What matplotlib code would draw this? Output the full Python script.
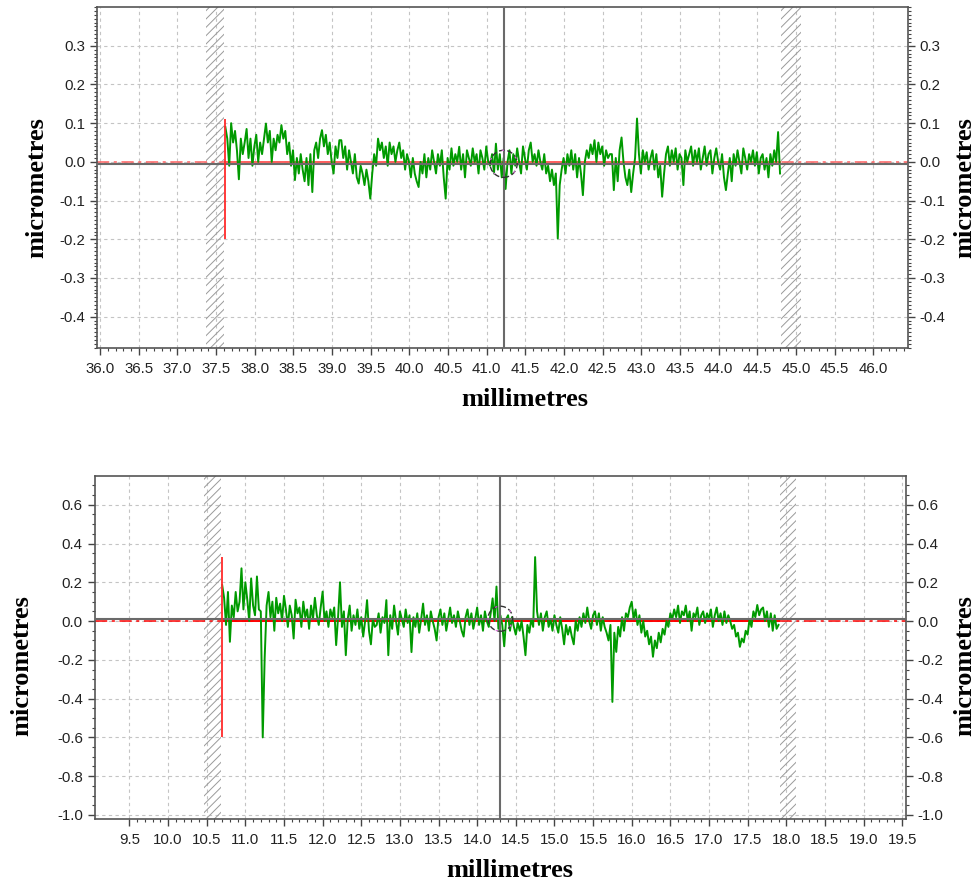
import numpy as np
import matplotlib.pyplot as plt
from matplotlib.patches import Ellipse
from matplotlib.ticker import FixedLocator, FormatStrFormatter

plt.rcParams['font.family'] = 'Liberation Sans'
plt.rcParams['axes.unicode_minus'] = False
plt.rcParams['hatch.linewidth'] = 0.7
plt.rcParams['hatch.color'] = '#909090'

# profile 1 : sampled every 0.025 mm starting at 37.62 mm (micrometres)
top_start = 37.62
top_step = 0.025
top_profile = [
    0.09, 0.06, -0.01, 0.10, 0.05, 0.08, 0.03, -0.045, 0.06, 0.02, 0.05, 0.085, 0.01, 0.06, -0.01, 0.04, 0.07, 0.00, 0.05, 0.02,
    0.06, 0.099, 0.05, 0.08, 0.00, 0.06, 0.03, 0.07, 0.05, 0.095, 0.06, 0.08, 0.02, 0.05, -0.01, 0.03, -0.047, 0.01, -0.03, 0.02,
    -0.02, -0.05, 0.01, -0.06, 0.02, -0.078, 0.03, 0.05, 0.01, 0.06, 0.082, 0.04, 0.07, 0.02, 0.05, 0.00, -0.03, 0.04, 0.01, 0.056,
    0.056, 0.01, 0.04, -0.02, 0.03, 0.00, -0.03, 0.02, -0.04, -0.056, -0.01, -0.03, -0.06, -0.02, -0.05, -0.095, -0.03, 0.02, -0.01, 0.06,
    0.03, 0.05, 0.01, 0.04, -0.01, 0.05, 0.02, 0.04, 0.00, 0.03, 0.05, 0.01, 0.03, -0.02, 0.02, 0.00, -0.04, 0.01, -0.03, -0.05,
    -0.065, 0.00, -0.03, 0.02, -0.04, 0.01, -0.02, 0.03, 0.00, -0.03, 0.02, -0.01, 0.03, -0.04, -0.095, 0.01, -0.02, 0.035, -0.01, 0.02,
    0.00, 0.039, -0.02, 0.02, -0.04, 0.03, 0.01, -0.01, 0.035, 0.00, 0.02, -0.03, 0.03, 0.01, -0.02, 0.04, 0.00, -0.01, 0.02, -0.03,
    0.047, -0.02, 0.02, -0.04, 0.01, -0.07, 0.00, 0.03, -0.03, 0.02, -0.01, 0.035, 0.00, -0.03, 0.04, 0.01, -0.02, 0.03, 0.05, 0.00,
    0.02, -0.01, 0.03, 0.00, -0.02, 0.02, -0.03, -0.01, -0.05, -0.02, -0.06, -0.03, -0.198, -0.06, -0.02, 0.01, -0.03, 0.02, -0.01, 0.03,
    -0.02, 0.02, -0.04, 0.01, -0.03, -0.086, 0.00, 0.03, 0.01, 0.045, 0.02, 0.056, 0.00, 0.05, 0.02, 0.04, -0.01, 0.03, 0.01, 0.02,
    0.02, -0.073, 0.01, -0.05, 0.03, 0.063, 0.00, -0.04, -0.06, -0.02, -0.078, -0.03, 0.01, 0.112, 0.02, -0.03, 0.03, 0.00, 0.025, -0.02,
    0.01, 0.03, -0.02, 0.02, -0.04, -0.01, -0.09, -0.03, 0.02, 0.04, -0.01, 0.03, 0.00, 0.035, -0.02, 0.02, 0.01, -0.06, 0.03, 0.00,
    0.02, 0.04, -0.01, 0.03, 0.00, 0.035, -0.02, 0.01, 0.04, -0.01, 0.02, 0.03, -0.03, 0.01, 0.035, 0.00, -0.02, 0.02, -0.04, -0.073,
    -0.03, 0.01, -0.05, 0.02, -0.01, 0.03, 0.00, -0.03, 0.035, 0.01, -0.02, 0.02, 0.00, 0.03, -0.01, 0.025, -0.03, 0.01, 0.02, -0.02,
    0.01, -0.04, 0.02, -0.01, 0.03, 0.00, 0.077, -0.03,
]

# profile 2 : sampled every 0.025 mm starting at 10.70 mm (micrometres)
bot_start = 10.70
bot_step = 0.025
bot_profile = [
    0.186, 0.12, -0.02, 0.15, -0.107, 0.08, 0.02, 0.15, 0.05, 0.10, 0.272, 0.06, 0.20, 0.11, 0.00, 0.22, 0.08, 0.03, 0.23, 0.06,
    0.05, -0.60, -0.19, 0.08, 0.15, 0.02, 0.10, -0.05, 0.12, 0.04, 0.09, 0.00, 0.13, 0.06, -0.03, 0.08, 0.03, -0.09, 0.11, 0.04,
    0.07, -0.03, 0.10, 0.02, 0.06, -0.04, 0.08, 0.01, 0.12, 0.03, -0.02, 0.07, 0.152, 0.00, 0.05, -0.03, 0.06, 0.02, 0.07, -0.124,
    0.02, 0.20, -0.03, 0.05, -0.176, 0.01, 0.08, -0.05, 0.03, -0.02, 0.06, -0.04, 0.02, -0.08, 0.00, 0.108, -0.05, -0.12, 0.01, -0.03,
    -0.02, 0.04, -0.06, 0.02, -0.01, 0.108, -0.176, 0.03, -0.04, 0.08, 0.00, -0.07, 0.05, 0.01, -0.03, 0.06, -0.01, 0.03, -0.16, 0.02,
    -0.03, 0.04, -0.06, 0.01, 0.09, -0.02, 0.03, -0.05, 0.05, 0.00, -0.04, -0.10, 0.02, 0.06, -0.02, 0.04, -0.05, 0.01, 0.07, -0.01,
    0.03, -0.03, 0.05, 0.00, -0.05, -0.08, 0.02, 0.06, -0.02, 0.04, -0.04, 0.01, 0.07, -0.02, 0.03, -0.05, 0.05, 0.00, -0.03, 0.04,
    0.117, 0.00, 0.178, -0.04, 0.03, -0.02, -0.13, 0.01, 0.03, -0.05, 0.02, -0.03, -0.07, -0.01, -0.05, 0.00, -0.08, -0.176, -0.02, -0.06,
    0.01, -0.03, 0.33, 0.05, -0.02, 0.04, -0.05, 0.02, 0.05, -0.03, 0.01, -0.05, 0.03, -0.02, -0.06, 0.02, -0.04, -0.12, -0.02, -0.07,
    -0.03, -0.08, -0.12, 0.00, -0.05, 0.02, -0.03, 0.04, -0.01, 0.07, 0.00, -0.04, 0.03, 0.05, -0.02, 0.04, -0.05, 0.02, -0.03, -0.06,
    -0.10, -0.02, -0.417, -0.06, -0.159, -0.03, -0.08, 0.02, -0.05, 0.04, 0.02, 0.07, 0.10, 0.01, 0.06, -0.02, 0.03, -0.06, 0.00, -0.08,
    -0.05, -0.12, -0.08, -0.184, -0.10, -0.14, -0.06, -0.11, -0.04, -0.07, 0.00, -0.03, 0.04, 0.01, 0.06, 0.02, 0.08, -0.01, 0.05, 0.03,
    0.08, 0.00, 0.05, -0.05, 0.04, 0.02, 0.07, -0.02, 0.03, 0.05, -0.01, 0.04, 0.01, 0.06, -0.03, 0.03, 0.07, 0.00, 0.04, -0.02,
    0.05, -0.01, 0.03, 0.00, -0.04, -0.02, -0.08, -0.06, -0.133, -0.09, -0.11, -0.05, -0.07, 0.01, -0.03, 0.05, 0.02, 0.083, 0.03, 0.06,
    0.07, 0.00, 0.05, -0.03, 0.04, -0.05, 0.03, -0.04, -0.02,
]

# masked zones, cursor, start marker and reference levels
top_bands = [(37.37, 37.60), (44.81, 45.06)]
bot_bands = [(10.47, 10.68), (17.92, 18.13)]
top_cursor = (41.22, -0.005)
bot_cursor = (14.30, 0.012)
top_marker = (-0.20, 0.11)
bot_marker = (-0.60, 0.33)
top_mean = -0.0065
bot_mean = 0.012

fig = plt.figure(figsize=(9.78, 8.84), dpi=100)
ax1 = fig.add_axes([0.0992, 0.6063, 0.8292, 0.3857])
ax2 = fig.add_axes([0.0968, 0.0735, 0.8296, 0.3880])

label_font = dict(family='Liberation Serif', weight='bold', size=19)


def ticks(a, b, step):
    # round off float noise; "+ 0.0" turns -0.0 into 0.0
    return np.round(np.arange(a, b + step / 2, step), 3) + 0.0


def style_axes(ax, xlim, ylim, xmajor, xminor, ymajor, yminor):
    ax.set_xlim(xlim)
    ax.set_ylim(ylim)
    ax.xaxis.set_major_locator(FixedLocator(xmajor))
    ax.xaxis.set_minor_locator(FixedLocator(xminor))
    ax.yaxis.set_major_locator(FixedLocator(ymajor))
    ax.yaxis.set_minor_locator(FixedLocator(yminor))
    ax.xaxis.set_major_formatter(FormatStrFormatter('%.1f'))
    ax.yaxis.set_major_formatter(FormatStrFormatter('%.1f'))
    ax.grid(True, which='major', color='#c4c4c4', ls=(0, (3, 3)), lw=0.8)
    ax.set_axisbelow(True)
    ax.tick_params(which='both', direction='out', left=True, right=True,
                   labelright=True, color='#444', labelcolor='#222', labelsize=10.8)
    ax.tick_params(which='major', length=5, width=1)
    ax.tick_params(which='minor', length=2.5, width=0.8)
    ax.tick_params(axis='x', pad=5)
    for s in ax.spines.values():
        s.set_color('#555')
        s.set_linewidth(1.2)


def draw_profile(ax, start, step, values, bands, cursor, marker, mean, ell, red):
    x = start + step * np.arange(len(values))
    for a, b in bands:
        ax.axvspan(a, b, facecolor='none', edgecolor='#9a9a9a', hatch='////', lw=0, zorder=1)
    ax.plot(x, values, color='#009a00', lw=1.4, zorder=3)
    # reference lines
    ax.axhline(0.0, color=red, lw=1.1, ls=(0, (8, 3, 2, 3)), zorder=2)
    ax.plot([x[0], x[-1]], [0.0, 0.0], color=red, lw=1.4, zorder=2)
    ax.axhline(mean, color='#6a6a6a', lw=1.5, zorder=4)
    ax.vlines(x[0], marker[0], marker[1], color='#ff2a2a', lw=1.3, zorder=4)
    ax.axvline(cursor[0], color='#6a6a6a', lw=1.5, zorder=5)
    ax.add_patch(Ellipse(cursor, ell[0], ell[1], fill=False, ec='#333', lw=1,
                         ls=(0, (4, 2)), zorder=6))
    ax.add_patch(Ellipse(cursor, ell[0], ell[1], fill=False, ec='#e070e0', lw=0.8,
                         ls=(4, (2, 12)), zorder=6))


style_axes(ax1, (35.96, 46.45), (-0.481, 0.40),
           ticks(36.0, 46.0, 0.5), ticks(36.0, 46.4, 0.1),
           ticks(-0.4, 0.3, 0.1), ticks(-0.48, 0.40, 0.01))
draw_profile(ax1, top_start, top_step, top_profile, top_bands, top_cursor,
             top_marker, top_mean, (0.35, 0.07), '#ff6060')

style_axes(ax2, (9.05, 19.55), (-1.021, 0.748),
           ticks(9.5, 19.5, 0.5), ticks(9.5, 19.5, 0.1),
           ticks(-1.0, 0.6, 0.2), ticks(-1.0, 0.70, 0.05))
draw_profile(ax2, bot_start, bot_step, bot_profile, bot_bands, bot_cursor,
             bot_marker, bot_mean, (0.32, 0.129), '#ff0000')

for ax, lx, rx, ly, xx, xy in [(ax1, -0.074, 1.070, 0.47, 0.528, -0.152),
                               (ax2, -0.090, 1.073, 0.446, 0.512, -0.149)]:
    ax.text(lx, ly, 'micrometres', rotation=90, ha='center', va='center',
            transform=ax.transAxes, **label_font)
    ax.text(rx, ly, 'micrometres', rotation=90, ha='center', va='center',
            transform=ax.transAxes, **label_font)
    ax.text(xx, xy, 'millimetres', ha='center', va='center',
            transform=ax.transAxes, **label_font)

fig.savefig('out.png', dpi=100)
